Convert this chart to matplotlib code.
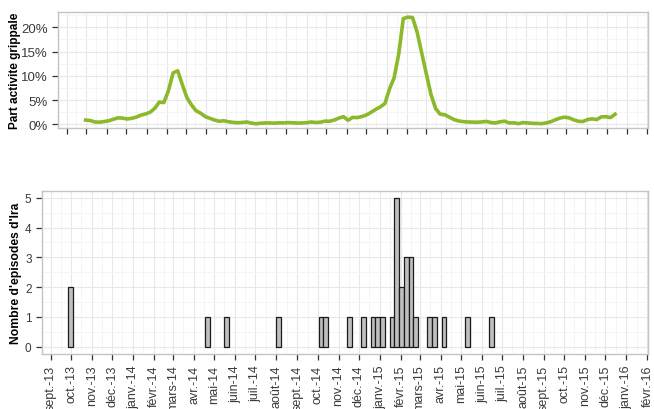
import numpy as np
import pandas as pd
import matplotlib
matplotlib.use("Agg")
from matplotlib import pyplot as plt
import matplotlib.dates as mdates
from matplotlib.ticker import PercentFormatter, MultipleLocator

plt.rcParams['font.family'] = ['Liberation Sans', 'DejaVu Sans']

# weekly share of influenza-like activity (%), first week starting 2013-09-30
flu_start = "2013-09-30"
flu_pct = [0.89, 0.8, 0.5, 0.47, 0.58, 0.75, 1.05, 1.35, 1.3, 1.12,
           1.25, 1.5, 1.9, 2.15, 2.5, 3.3, 4.6, 4.5, 7.0, 10.6,
           11.05, 8.2, 5.5, 4.0, 2.8, 2.3, 1.6, 1.25, 0.9, 0.65,
           0.75, 0.55, 0.42, 0.35, 0.4, 0.5, 0.27, 0.12, 0.25, 0.3,
           0.3, 0.25, 0.33, 0.3, 0.38, 0.33, 0.28, 0.3, 0.35, 0.5,
           0.4, 0.45, 0.68, 0.65, 0.9, 1.3, 1.6, 0.85, 1.45, 1.4,
           1.62, 1.95, 2.5, 3.1, 3.6, 4.3, 7.3, 9.6, 14.5, 21.8,
           22.1, 22.0, 19.0, 14.7, 10.4, 6.2, 3.3, 2.1, 2.0, 1.5,
           1.0, 0.72, 0.58, 0.5, 0.48, 0.45, 0.5, 0.62, 0.4, 0.3,
           0.54, 0.66, 0.3, 0.33, 0.15, 0.38, 0.3, 0.22, 0.2, 0.15,
           0.3, 0.55, 0.95, 1.3, 1.5, 1.35, 0.95, 0.65, 0.6, 1.0,
           1.15, 1.0, 1.55, 1.6, 1.4, 2.1]

# weekly number of IRA episodes (weeks with at least one episode)
ira_weeks = ["2013-09-30", "2014-04-21", "2014-05-19", "2014-08-04", "2014-10-06",
             "2014-10-13", "2014-11-17", "2014-12-08", "2014-12-22", "2014-12-29",
             "2015-01-05", "2015-01-19", "2015-01-26", "2015-02-02", "2015-02-09",
             "2015-02-16", "2015-02-23", "2015-03-16", "2015-03-23", "2015-04-06",
             "2015-05-11", "2015-06-15"]
ira_counts = [2, 1, 1, 1, 1, 1, 1, 1, 1, 1, 1, 1, 5, 2, 3, 3, 1, 1, 1, 1, 1, 1]

month_labels = ["sept.-13", "oct.-13", "nov.-13", "déc.-13", "janv.-14", "févr.-14",
                "mars-14", "avr.-14", "mai-14", "juin-14", "juil.-14", "août-14",
                "sept.-14", "oct.-14", "nov.-14", "déc.-14", "janv.-15", "févr.-15",
                "mars-15", "avr.-15", "mai-15", "juin-15", "juil.-15", "août-15",
                "sept.-15", "oct.-15", "nov.-15", "déc.-15", "janv.-16", "févr.-16"]

x_min = pd.Timestamp("2013-08-19")
x_max = pd.Timestamp("2016-02-02")
month_ticks = pd.date_range("2013-09-01", periods=len(month_labels), freq="MS")
mid_ticks = month_ticks + pd.Timedelta(days=15)


def style_axes(ax, tick_size):
    ax.set_facecolor("white")
    for s in ax.spines.values():
        s.set_color("#c4c4c4")
        s.set_linewidth(1.0)
    ax.set_xticks(month_ticks)
    ax.set_xticks(mid_ticks, minor=True)
    ax.grid(True, which="major", color="#e8e8e8", linewidth=0.8)
    ax.grid(True, which="minor", color="#f4f4f4", linewidth=0.6)
    ax.set_axisbelow(True)
    ax.tick_params(axis="both", which="major", direction="out", length=4,
                   width=0.9, color="#333333", labelsize=tick_size, labelcolor="#3a3a3a")
    ax.tick_params(axis="both", which="minor", length=0)
    ax.set_xlim(x_min, x_max)


fig = plt.figure(figsize=(6.54, 4.10), dpi=100)

# top panel: flu activity
ax1 = fig.add_axes([58 / 654, 1 - 129.3 / 410, 590 / 654, 116.3 / 410])
flu_dates = pd.date_range(flu_start, periods=len(flu_pct), freq="7D")
ax1.plot(flu_dates, flu_pct, color="#8cb82b", linewidth=2.6, solid_joinstyle="round")
style_axes(ax1, 9.5)
ax1.set_ylim(-0.8, 23.15)
ax1.yaxis.set_major_locator(MultipleLocator(5))
ax1.yaxis.set_minor_locator(MultipleLocator(2.5))
ax1.yaxis.set_major_formatter(PercentFormatter(xmax=100, decimals=0))
ax1.set_xticklabels([])
ax1.set_ylabel("Part activite grippale", fontsize=8.5, fontweight="bold")
ax1.yaxis.set_label_coords(-0.063, 0.5)

# bottom panel: IRA episodes
ax2 = fig.add_axes([42 / 654, 1 - 355 / 410, 606 / 654, 162.7 / 410])
ax2.bar(pd.to_datetime(ira_weeks), ira_counts, width=7, color="#bfbfbf",
        edgecolor="#1a1a1a", linewidth=0.9)
style_axes(ax2, 9)
ax2.tick_params(axis="y", labelsize=8.5)
ax2.set_ylim(-0.25, 5.22)
ax2.yaxis.set_major_locator(MultipleLocator(1))
ax2.yaxis.set_minor_locator(MultipleLocator(0.5))
ax2.set_xticklabels(month_labels, rotation=90)
ax2.set_ylabel("Nombre d'episodes d'Ira", fontsize=8.7, fontweight="bold")
ax2.yaxis.set_label_coords(-0.033, 0.5)

plt.savefig("out.png", dpi=100)
plt.close()
